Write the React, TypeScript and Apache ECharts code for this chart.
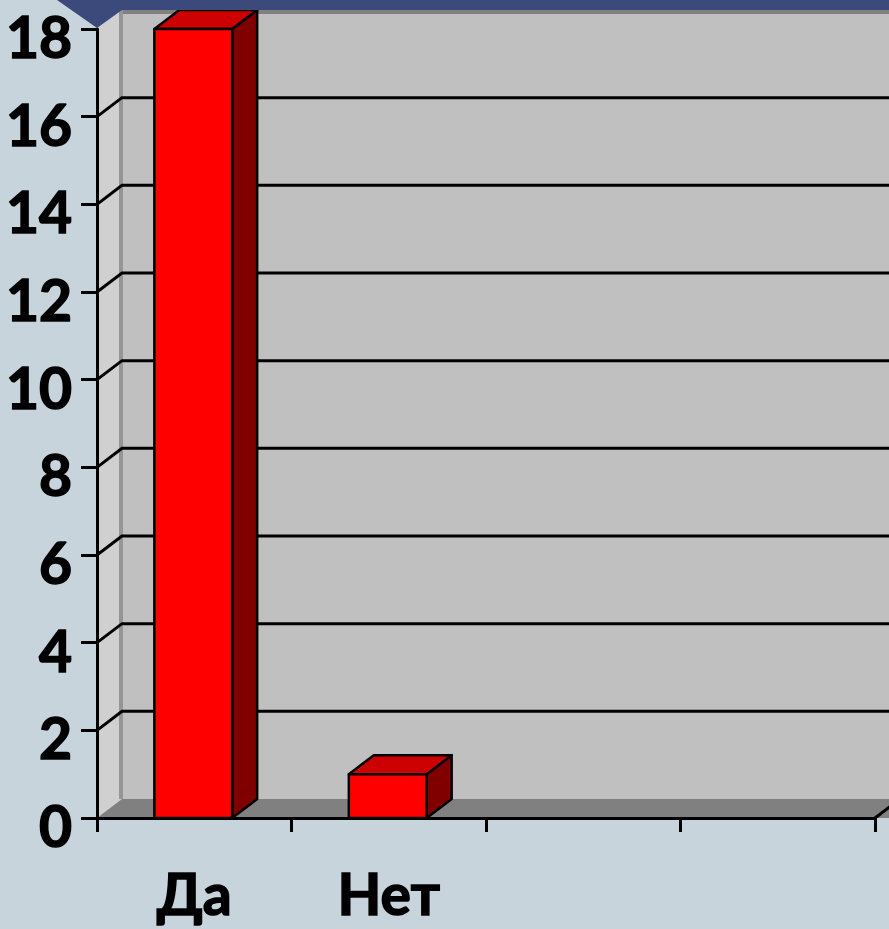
import React, { useEffect, useRef } from "react";
import * as echarts from "echarts";

const categories = ["Да", "Нет", "", ""];
const answers = [18, 1];
const yMin = 0;
const yMax = 18;
const yStep = 2;
const yTickValues = [0, 2, 4, 6, 8, 10, 12, 14, 16, 18];
const innerGridValues = [2, 4, 6, 8, 10, 12, 14, 16];

const DX = 25;
const DY = -19;

export default function App() {
  const ref = useRef<HTMLDivElement>(null);

  useEffect(() => {
    if (!ref.current) return;
    const chart = echarts.init(ref.current, null, { renderer: "svg" });

    const font = "Lato, 'Open Sans', 'Liberation Sans', sans-serif";

    const frameRender = (params: any, api: any) => {
      const band = api.size([1, 0])[0];
      const p0 = api.coord([0, yMin]);
      const pN = api.coord([categories.length - 1, yMin]);
      const pt = api.coord([0, yMax]);
      const x0 = p0[0] - band / 2;
      const x1 = pN[0] + band / 2;
      const yb = p0[1];
      const yt = pt[1];
      return {
        type: "group",
        children: [
          {
            type: "rect",
            shape: { x: x0 + DX, y: yt + DY, width: x1 - x0 + 60, height: yb - yt },
            style: { fill: "#c0c0c0" },
          },
          {
            type: "line",
            shape: { x1: x0 + DX, y1: yt + DY + 2, x2: x1 + DX + 60, y2: yt + DY + 2 },
            style: { stroke: "#808080", lineWidth: 4 },
          },
          {
            type: "polygon",
            shape: { points: [[x0, yt], [x0 + DX, yt + DY], [x0 + DX, yb + DY], [x0, yb]] },
            style: { fill: "#d0d0d0" },
          },
          {
            type: "line",
            shape: { x1: x0 + DX - 1, y1: yt + DY, x2: x0 + DX - 1, y2: yb + DY },
            style: { stroke: "#959595", lineWidth: 4 },
          },
          {
            type: "polygon",
            shape: { points: [[x0, yb], [x0 + DX, yb + DY], [x1 + DX + 60, yb + DY], [x1 + 60, yb]] },
            style: { fill: "#808080" },
          },
          {
            type: "line",
            shape: { x1: x1, y1: yb, x2: x1 + DX, y2: yb + DY },
            style: { stroke: "#000", lineWidth: 3 },
          },
        ],
      };
    };

    const gridRender = (params: any, api: any) => {
      const band = api.size([1, 0])[0];
      const v = api.value(1);
      const p0 = api.coord([0, v]);
      const pN = api.coord([categories.length - 1, v]);
      const x0 = p0[0] - band / 2;
      const x1 = pN[0] + band / 2;
      const y = p0[1];
      return {
        type: "polyline",
        shape: { points: [[x0, y], [x0 + DX, y + DY], [x1 + DX + 60, y + DY]] },
        style: { stroke: "#000", lineWidth: 3, fill: "none" },
      };
    };

    const yLabelRender = (params: any, api: any) => {
      const band = api.size([1, 0])[0];
      const v = api.value(1);
      const p = api.coord([0, v]);
      const x0 = p[0] - band / 2;
      return {
        type: "text",
        x: x0 - 25,
        y: p[1] + 7,
        style: {
          text: String(v),
          fill: "#000",
          stroke: "#000",
          lineWidth: 1.5,
          fontSize: 57,
          fontWeight: "bold",
          fontFamily: font,
          align: "right",
          verticalAlign: "middle",
        },
      };
    };

    const barRender = (params: any, api: any) => {
      const idx = api.value(0);
      const v = api.value(1);
      const c = api.coord([idx, v]);
      const b = api.coord([idx, 0]);
      const band = api.size([1, 0])[0];
      const w = band * 0.4;
      const l = c[0] - w / 2 - 1;
      const r = l + w;
      const t = c[1];
      const bot = b[1];
      const stroke = { stroke: "#000", lineWidth: 2.5, lineJoin: "round" };
      return {
        type: "group",
        children: [
          {
            type: "polygon",
            shape: { points: [[r, t], [r + DX, t + DY], [r + DX, bot + DY], [r, bot]] },
            style: { fill: "#800000", ...stroke },
          },
          {
            type: "polygon",
            shape: { points: [[l, t], [l + DX, t + DY], [r + DX, t + DY], [r, t]] },
            style: { fill: "#cc0000", ...stroke },
          },
          {
            type: "rect",
            shape: { x: l, y: t, width: w, height: bot - t },
            style: { fill: "#ff0000", ...stroke },
          },
        ],
      };
    };

    chart.setOption({
      animation: false,
      backgroundColor: "#c8d4dc",
      grid: { left: 97, top: 29, right: 14, bottom: 111, containLabel: false },
      xAxis: {
        type: "category",
        data: categories,
        z: 10,
        axisLine: { show: true, lineStyle: { color: "#000", width: 3 } },
        axisTick: { show: true, length: 14, interval: 0, alignWithLabel: false, lineStyle: { color: "#000", width: 3 } },
        axisLabel: {
          interval: 0,
          margin: 46,
          color: "#000",
          fontSize: 57,
          fontWeight: "bold",
          fontFamily: font,
          textBorderColor: "#000",
          textBorderWidth: 1.5,
        },
        splitLine: { show: false },
      },
      yAxis: {
        type: "value",
        min: yMin,
        max: yMax,
        interval: yStep,
        z: 10,
        axisLine: { show: true, lineStyle: { color: "#000", width: 3 } },
        axisTick: { show: true, length: 16, lineStyle: { color: "#000", width: 3 } },
        axisLabel: { show: false },
        splitLine: { show: false },
      },
      graphic: [
        {
          type: "polygon",
          z: 100,
          shape: { points: [[57, 0], [889, 0], [889, 10], [122, 10], [97, 28]] },
          style: { fill: "#3b4a7b" },
        },
      ],
      series: [
        {
          type: "custom",
          name: "frame",
          z: 1,
          silent: true,
          clip: false,
          renderItem: frameRender,
          data: [[0, 0]],
        },
        {
          type: "custom",
          name: "grid",
          z: 2,
          silent: true,
          clip: false,
          renderItem: gridRender,
          data: innerGridValues.map((v) => [0, v]),
        },
        {
          type: "custom",
          name: "yLabels",
          z: 5,
          silent: true,
          clip: false,
          renderItem: yLabelRender,
          data: yTickValues.map((v) => [0, v]),
        },
        {
          type: "custom",
          name: "answers",
          z: 3,
          clip: false,
          renderItem: barRender,
          data: answers.map((v, i) => [i, v]),
        },
      ],
    });

    return () => chart.dispose();
  }, []);

  return (
    <div
      ref={ref}
      style={{ position: "fixed", left: 0, top: 0, width: 889, height: 929 }}
    />
  );
}
